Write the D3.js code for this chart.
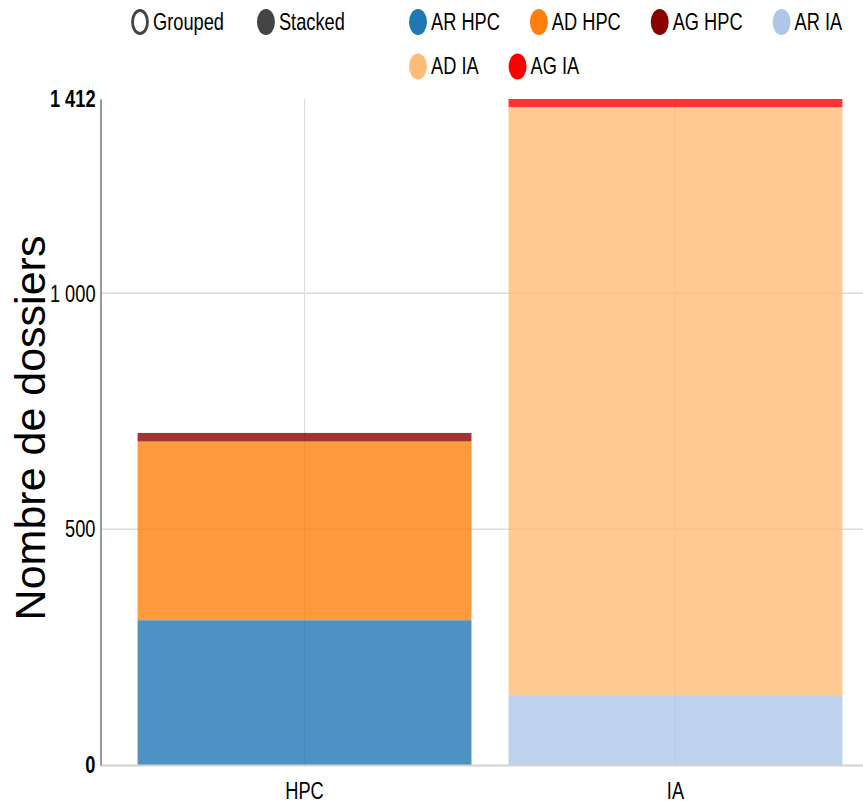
<!DOCTYPE html>
<html>
<head>
<meta charset="utf-8">
<script src="https://cdn.jsdelivr.net/npm/d3@7"></script>
<style>
  html, body { margin: 0; padding: 0; background: #fff; }
  svg { display: block; font-family: "Liberation Sans", Arial, sans-serif; }
</style>
</head>
<body>
<svg id="chart" width="863" height="804"></svg>
<script>
// Dossier counts per category, stacked by series
const categories = ["HPC", "IA"];
const seriesNames = ["AR HPC", "AD HPC", "AG HPC", "AR IA", "AD IA", "AG IA"];
const seriesColors = ["#1f77b4", "#ff7f0e", "#8b0000", "#aec7e8", "#ffbb78", "#ff0000"];
const arHpc = [307, 0];
const adHpc = [379, 0];
const agHpc = [18, 0];
const arIa = [0, 148];
const adIa = [0, 1247];
const agIa = [0, 17];
const yTickValues = [0, 500, 1000, 1412];
const yLabel = "Nombre de dossiers";
const controls = ["Grouped", "Stacked"];

const seriesValues = [arHpc, adHpc, agHpc, arIa, adIa, agIa];
const SX = 0.76;          // horizontal condensation of the lettering
const FONT = 24;

const svg = d3.select("#chart");
const plotLeft = 100.5, plotRight = 879.5, plotTop = 99, plotBottom = 765;

const x = d3.scaleBand().domain(categories).range([plotLeft, plotRight])
  .paddingInner(0.1).paddingOuter(0.1);
const y = d3.scaleLinear().domain([0, d3.max(yTickValues)]).range([plotBottom, plotTop]);

// stacked layout
const rows = categories.map((c, i) => {
  const r = { cat: c };
  seriesNames.forEach((s, k) => r[s] = seriesValues[k][i]);
  return r;
});
const stacked = d3.stack().keys(seriesNames)(rows);
const color = d3.scaleOrdinal().domain(seriesNames).range(seriesColors);

// horizontal grid
svg.append("g").selectAll("line").data([500, 1000]).join("line")
  .attr("x1", plotLeft).attr("x2", 863)
  .attr("y1", d => y(d)).attr("y2", d => y(d))
  .attr("stroke", "#dcdcdc").attr("stroke-width", 1.5);

// vertical grid at category centres
svg.append("g").selectAll("line").data(categories).join("line")
  .attr("x1", d => x(d) + x.bandwidth() / 2).attr("x2", d => x(d) + x.bandwidth() / 2)
  .attr("y1", y(d3.max(yTickValues))).attr("y2", plotBottom)
  .attr("stroke", "#dcdcdc").attr("stroke-width", 1.2);

// bars
svg.append("g").selectAll("g").data(stacked).join("g")
  .attr("fill", d => color(d.key))
  .selectAll("rect").data(d => d.filter(p => p[1] - p[0] > 0)).join("rect")
  .attr("x", d => x(d.data.cat))
  .attr("width", x.bandwidth())
  .attr("y", d => y(d[1]))
  .attr("height", d => y(d[0]) - y(d[1]))
  .attr("fill-opacity", 0.8);

// x baseline
svg.append("line").attr("x1", plotLeft).attr("x2", 863)
  .attr("y1", plotBottom + 0.5).attr("y2", plotBottom + 0.5)
  .attr("stroke", "#d4d4d4").attr("stroke-width", 2);

// y axis
const yAxis = svg.append("g").attr("transform", `translate(${plotLeft},0)`)
  .call(d3.axisLeft(y).tickValues(yTickValues).tickSize(0).tickPadding(5)
    .tickFormat(d => d3.format(",")(d).replace(/,/g, " ")));
yAxis.select(".domain").attr("stroke", "#555").attr("stroke-width", 1.2);
yAxis.selectAll("text")
  .attr("font-size", FONT)
  .attr("font-family", "Liberation Sans, Arial, sans-serif")
  .attr("fill", "#000")
  .attr("font-weight", d => (d === 0 || d === d3.max(yTickValues)) ? "bold" : "normal")
  .attr("x", -5 / SX)
  .attr("transform", `scale(${SX},1)`);

// x axis labels
const xAxis = svg.append("g").attr("transform", `translate(0,${plotBottom})`)
  .call(d3.axisBottom(x).tickSize(0).tickPadding(17));
xAxis.select(".domain").remove();
xAxis.selectAll(".tick text")
  .attr("font-size", FONT)
  .attr("font-family", "Liberation Sans, Arial, sans-serif")
  .attr("fill", "#000")
  .attr("transform", `scale(${SX},1)`);

// y axis title
svg.append("text")
  .attr("transform", `translate(45,${(plotTop + plotBottom) / 2 - 4}) rotate(-90)`)
  .attr("text-anchor", "middle")
  .attr("font-size", 43)
  .attr("fill", "#000")
  .text(yLabel);

// legend: marker plus condensed label; returns the label's right edge
function legendItem(g, cx, cy, label, fill, stroke) {
  g.append("ellipse").attr("cx", cx).attr("cy", cy)
    .attr("rx", stroke ? 7.5 : 9).attr("ry", stroke ? 11.5 : 13)
    .attr("fill", fill).attr("stroke", stroke || "none").attr("stroke-width", stroke ? 2.8 : 0);
  const t = g.append("text")
    .attr("transform", `translate(${cx + 13},${cy + 7.5}) scale(${SX},1)`)
    .attr("font-size", FONT).attr("fill", "#000").text(label);
  return cx + 13 + t.node().getComputedTextLength() * SX;
}

const legend = svg.append("g");
// stacking controls
const ctrlEnd = legendItem(legend, 140, 22, controls[0], "#fff", "#444");
legendItem(legend, ctrlEnd + 42, 22, controls[1], "#444", null);

// series legend, wrapping at the right edge
let lx = 418, ly = 22;
seriesNames.forEach((s, i) => {
  if (i > 0) {
    const probe = svg.append("text").attr("font-size", FONT).text(s);
    const w = probe.node().getComputedTextLength() * SX;
    probe.remove();
    if (lx + 13 + w > 863) { lx = 418; ly += 44.5; }
  }
  const e = legendItem(legend, lx, ly, s, color(s), null);
  lx = e + 39;
});
</script>
</body>
</html>
